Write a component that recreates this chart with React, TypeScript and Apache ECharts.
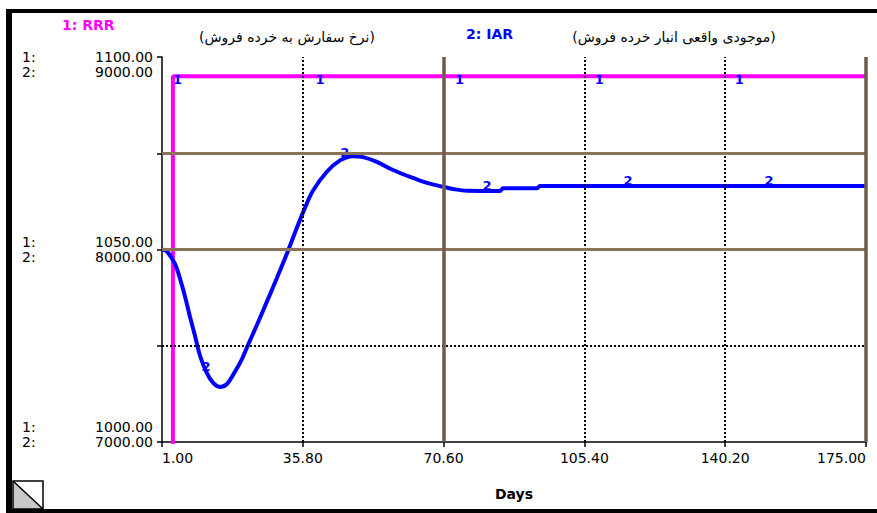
import React, { useEffect, useRef } from 'react';
import * as echarts from 'echarts';

// X axis ticks (Days)
const xTicks = [1, 35.8, 70.6, 105.4, 140.2, 175];

// Series 1: RRR (نرخ سفارش به خرده فروش)
const rrrDays = [1, 3.7, 3.7, 175];
const rrrValues = [0, 0, 1095, 1095];
const rrrMarkerDays = [4.6, 39.8, 74.3, 108.8, 143.4];
const rrrMarkerValues = [1095, 1095, 1095, 1095, 1095];

// Series 2: IAR (موجودی واقعی انبار خرده فروش)
const iarDays = [1, 2.2, 4.2, 5.5, 6.7, 7.9, 9.2, 10.4, 12, 13.6, 15.3, 17, 18.6, 20.7, 22.3, 24.4, 26.9, 29.4, 31.8, 34.1, 36.3, 38.3, 41.8, 45, 48.2, 50.7, 54.1, 58.1, 62.3, 66.5, 70.5, 73, 76.4, 84.5, 85.3, 93.7, 94.4, 175];
const iarValues = [8000, 7990, 7925, 7845, 7755, 7652, 7548, 7448, 7362, 7308, 7286, 7300, 7350, 7428, 7506, 7605, 7728, 7852, 7975, 8100, 8215, 8305, 8405, 8463, 8485, 8480, 8455, 8413, 8377, 8346, 8326, 8314, 8305, 8304, 8318, 8318, 8330, 8330];
const iarMarkerDays = [11.9, 46.2, 81.3, 116.2, 151];
const iarMarkerValues = [7365, 8478, 8304, 8330, 8330];

// Y axis tick labels
const rrrAxisLabels = [1000, 1050, 1100];
const iarAxisLabels = [7000, 8000, 9000];

// Grid lines
const vBrown = [70.6, 175];
const vDotted = [35.8, 105.4, 140.2];
const hBrown = [8000, 8500];
const hDotted = [7500];

const FONT = 'DejaVu Sans';

export default function App() {
  const ref = useRef<HTMLDivElement>(null);
  useEffect(() => {
    const chart = echarts.init(ref.current!, null, { renderer: 'svg' });
    const richStyles = {
      k: { width: 64, align: 'left', fontSize: 14, lineHeight: 15, fontFamily: FONT, color: '#000' },
      v: { width: 67, align: 'right', fontSize: 14, lineHeight: 15, fontFamily: FONT, color: '#000' },
    };
    const brownH = { color: '#8a735a', width: 3, type: 'solid' };
    const brownV = { color: '#6e5b4a', width: 3.5, type: 'solid' };
    const dotted = { color: '#000', width: 2, type: [2, 2] };
    const markerLabel = {
      show: true,
      position: 'inside',
      color: '#0000ff',
      fontSize: 13,
      fontWeight: 'bold',
      fontFamily: FONT,
      textBorderWidth: 0,
      textBorderColor: 'transparent',
      opacity: 1,
    };
    chart.setOption({
      animation: false,
      backgroundColor: '#fff',
      grid: { left: 162, right: 11, top: 57, bottom: 71, containLabel: false },
      xAxis: {
        type: 'value',
        min: 1,
        max: 175,
        axisLine: { lineStyle: { color: '#000', width: 1.5 } },
        axisTick: { show: true, length: 5, lineStyle: { color: '#000', width: 1.5 }, customValues: xTicks },
        axisLabel: {
          customValues: xTicks,
          formatter: (v: number) => v.toFixed(2),
          fontSize: 14,
          fontFamily: FONT,
          color: '#000',
          margin: 9,
          alignMinLabel: 'left',
          alignMaxLabel: 'right',
        },
        splitLine: { show: false },
        name: 'Days',
        nameLocation: 'middle',
        nameGap: 45,
        nameTextStyle: { fontSize: 14, fontWeight: 'bold', fontFamily: FONT, color: '#000' },
      },
      yAxis: [
        {
          type: 'value',
          min: 1000,
          max: 1100,
          interval: 25,
          axisLine: { show: true, lineStyle: { color: '#000', width: 1.5 } },
          axisTick: { show: true, length: 5, lineStyle: { color: '#000', width: 1.5 } },
          splitLine: { show: false },
          axisLabel: {
            margin: 9,
            formatter: (v: number) => {
              const i = rrrAxisLabels.indexOf(v);
              if (i < 0) return '';
              let s = '{k|1:}{v|' + v.toFixed(2) + '}';
              for (let j = 0; j < 2 - i; j++) s += '\n{k| }';
              return s;
            },
            rich: richStyles,
          },
        },
        {
          type: 'value',
          min: 7000,
          max: 9000,
          interval: 500,
          position: 'left',
          axisLine: { show: false },
          axisTick: { show: false },
          splitLine: { show: false },
          axisLabel: {
            margin: 9,
            formatter: (v: number) => {
              const i = iarAxisLabels.indexOf(v);
              if (i < 0) return '';
              let s = '';
              for (let j = 0; j < i; j++) s += '{k| }\n';
              return s + '{k|2:}{v|' + v.toFixed(2) + '}';
            },
            rich: richStyles,
          },
        },
      ],
      series: [
        {
          type: 'line',
          yAxisIndex: 1,
          z: 1,
          data: [[1, 7000]],
          symbol: 'none',
          lineStyle: { width: 0, opacity: 0 },
          silent: true,
          markLine: {
            silent: true,
            symbol: 'none',
            label: { show: false },
            animation: false,
            data: [
              ...vDotted.map((x) => ({ xAxis: x, lineStyle: dotted })),
              ...hDotted.map((y) => ({ yAxis: y, lineStyle: dotted })),
              ...hBrown.map((y) => ({ yAxis: y, lineStyle: brownH })),
              ...vBrown.map((x) => ({ xAxis: x, lineStyle: brownV })),
            ],
          },
        },
        {
          name: 'RRR',
          type: 'line',
          yAxisIndex: 0,
          z: 3,
          data: rrrDays.map((d, i) => [d, rrrValues[i]]),
          symbol: 'none',
          clip: true,
          lineStyle: { color: '#ff00ff', width: 4 },
        },
        {
          name: 'IAR',
          type: 'line',
          yAxisIndex: 1,
          z: 3,
          data: iarDays.map((d, i) => [d, iarValues[i]]),
          symbol: 'none',
          smooth: 0.35,
          clip: true,
          lineStyle: { color: '#0000ff', width: 4 },
        },
        {
          type: 'scatter',
          yAxisIndex: 0,
          z: 4,
          symbolSize: 1,
          itemStyle: { color: 'rgba(0,0,0,0)' },
          data: rrrMarkerDays.map((d, i) => [d, rrrMarkerValues[i]]),
          label: { ...markerLabel, formatter: '1', offset: [1, 3] },
        },
        {
          type: 'scatter',
          yAxisIndex: 1,
          z: 4,
          symbolSize: 1,
          itemStyle: { color: 'rgba(0,0,0,0)' },
          data: iarMarkerDays.map((d, i) => [d, iarMarkerValues[i]]),
          label: { ...markerLabel, formatter: '2', offset: [0, -5] },
        },
      ],
      graphic: [
        { type: 'rect', shape: { x: 6, y: 9, width: 871, height: 4 }, style: { fill: '#000' } },
        { type: 'rect', shape: { x: 6, y: 9, width: 6, height: 504 }, style: { fill: '#000' } },
        { type: 'rect', shape: { x: 6, y: 509, width: 871, height: 4 }, style: { fill: '#000' } },
        { type: 'polygon', shape: { points: [[13, 481], [13, 509], [43, 509]] }, style: { fill: '#c8c8c8' } },
        { type: 'rect', shape: { x: 13, y: 481, width: 30, height: 28 }, style: { fill: 'none', stroke: '#000', lineWidth: 1.5 } },
        { type: 'line', shape: { x1: 13, y1: 481, x2: 43, y2: 509 }, style: { stroke: '#000', lineWidth: 1.5 } },
        { type: 'text', style: { text: '1: RRR', x: 62, y: 25, fill: '#ff00ff', font: 'bold 14px DejaVu Sans', textAlign: 'left', textVerticalAlign: 'middle' } },
        { type: 'text', style: { text: '(نرخ سفارش به خرده فروش)', x: 287, y: 37, fill: '#000', font: '14px DejaVu Sans', textAlign: 'center', textVerticalAlign: 'middle' } },
        { type: 'text', style: { text: '2: IAR', x: 466, y: 34, fill: '#0000ff', font: 'bold 14px DejaVu Sans', textAlign: 'left', textVerticalAlign: 'middle' } },
        { type: 'text', style: { text: '(موجودی واقعی انبار خرده فروش)', x: 674, y: 37, fill: '#000', font: '14px DejaVu Sans', textAlign: 'center', textVerticalAlign: 'middle' } },
      ],
    });
    return () => chart.dispose();
  }, []);
  return <div ref={ref} style={{ position: 'fixed', left: 0, top: 0, width: 877, height: 513, background: '#fff' }} />;
}
